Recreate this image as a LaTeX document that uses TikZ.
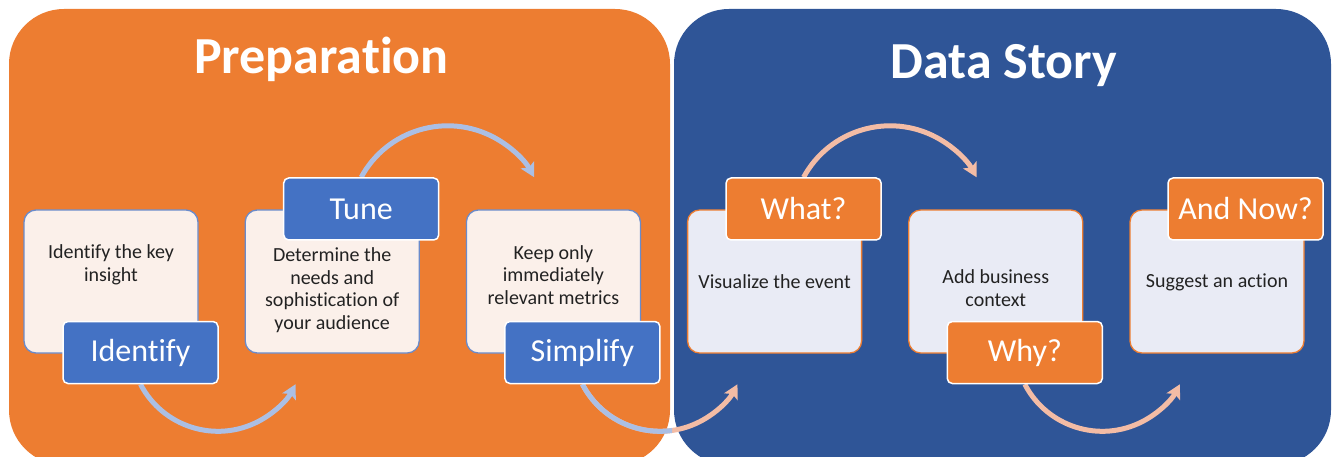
\documentclass[tikz,border=0pt]{standalone}
\usepackage{fontspec}
\setmainfont{Carlito}[Ligatures=NoCommon]
\usetikzlibrary{arrows.meta}

\definecolor{prepOrange}{HTML}{ED7D31}
\definecolor{storyBlue}{HTML}{2F5597}
\definecolor{tagBlue}{HTML}{4472C4}
\definecolor{cardEdgeBlue}{HTML}{6A8BCB}
\definecolor{paleCream}{HTML}{FBF0EA}
\definecolor{paleLilac}{HTML}{E9EBF5}
\definecolor{arcBlue}{HTML}{ABBFE4}
\definecolor{arcSalmon}{HTML}{F3BCA5}
\definecolor{bodyText}{HTML}{222222}

\pgfdeclarelayer{back}
\pgfdeclarelayer{mid}
\pgfsetlayers{back,mid,main}

\tikzset{
  panel/.style={rounded corners=55pt, inner sep=0pt, draw=none},
  card/.style={rounded corners=12pt, line width=1.3pt, minimum width=174pt,
    minimum height=143pt, inner sep=0pt},
  prepcard/.style={card, fill=paleCream, draw=cardEdgeBlue},
  storycard/.style={card, fill=paleLilac, draw=prepOrange},
  tag/.style={rounded corners=5pt, draw=white, line width=1.5pt,
    minimum width=155pt, minimum height=62pt, inner sep=0pt, text=white,
    font=\fontsize{32}{36}\selectfont},
  prepTag/.style={tag, fill=tagBlue},
  storyTag/.style={tag, fill=prepOrange},
  cardtext/.style={align=center, text=bodyText, inner sep=0pt,
    font=\fontsize{20}{22.5}\selectfont},
  title/.style={text=white, inner sep=0pt, anchor=base,
    font=\bfseries\fontsize{52}{60}\selectfont},
  flow/.style={line width=5pt, -{Stealth[length=14pt,width=15pt,inset=3pt]}},
  lowloop/.style={start angle=152.5, end angle=27.5, radius=87.4},
  highloop/.style={start angle=208.5, end angle=331.5, radius=98.4}
}

\begin{document}
\begin{tikzpicture}[x=1pt, y=-1pt]
\useasboundingbox (0,0) rectangle (1334,457);

% two phase panels and their step cards
\begin{pgfonlayer}{back}
  \node[panel, fill=prepOrange, minimum width=661pt, minimum height=456pt] (prep) at (339.5,237) {};
  \node[panel, fill=storyBlue, minimum width=657pt, minimum height=456pt] (story) at (1002.5,237) {};

  \node[prepcard]  (c1) at (111,281.5) {};
  \node[prepcard]  (c2) at (332.2,281.5) {};
  \node[prepcard]  (c3) at (553.4,281.5) {};
  \node[storycard] (c4) at (774.6,281.5) {};
  \node[storycard] (c5) at (995.8,281.5) {};
  \node[storycard] (c6) at (1217,281.5) {};
\end{pgfonlayer}

% panel titles
\node[title] (prepTitle) at (321.5,74) {Preparation};
\node[title] (storyTitle) at (1004,79) {Data Story};

% card texts
\node[cardtext] (t1) at (111,265) {Identify the key\\insight};
\node[cardtext] (t2) at (332.2,290) {Determine the\\needs and\\sophistication of\\your audience};
\node[cardtext] (t3) at (553.4,275) {Keep only\\immediately\\relevant metrics};
\node[cardtext] (t4) at (774.6,282) {Visualize the event};
\node[cardtext] (t5) at (995.8,288) {Add business\\context};
\node[cardtext] (t6) at (1217,282) {Suggest an action};

% step tags
\node[prepTag]  (identify) at (140.5,352.5) {Identify};
\node[prepTag]  (tune)     at (361.2,209) {Tune};
\node[prepTag]  (simplify) at (582.4,352.5) {Simplify};
\node[storyTag] (what)     at (803.6,209) {What?};
\node[storyTag] (why)      at (1024.8,352.5) {Why?};
\node[storyTag] (andnow)   at (1245.5,209) {And Now?};

% curved arrows linking the steps
\begin{pgfonlayer}{mid}
  \draw[flow, arcBlue] (identify.south) arc[lowloop];
  \draw[flow, arcBlue] (tune.north) arc[highloop];
  \draw[flow, arcSalmon] (simplify.south) arc[lowloop];
  \begin{scope}
    \clip (0,0) rectangle (672,457);
    \draw[flow, arcBlue] (simplify.south) arc[lowloop];
  \end{scope}
  \draw[flow, arcSalmon] (what.north) arc[highloop];
  \draw[flow, arcSalmon] (why.south) arc[lowloop];
\end{pgfonlayer}
\end{tikzpicture}
\end{document}
